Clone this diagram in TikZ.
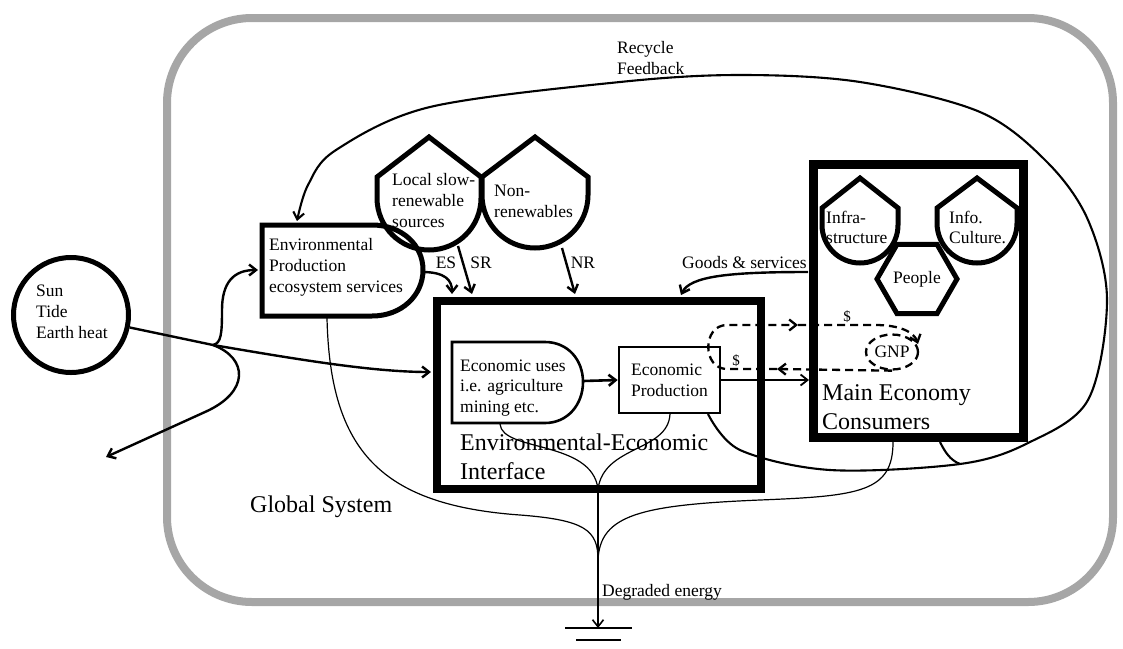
\documentclass[tikz,border=0pt]{standalone}
\usepackage{fontspec}
\setmainfont{Liberation Serif}
\usetikzlibrary{arrows.meta,shapes.geometric}
\begin{document}
\begin{tikzpicture}[x=1pt,y=-1pt,
 txt/.style={font=\fontsize{17.5}{21}\selectfont, inner sep=0pt, align=left},
 bigtxt/.style={font=\fontsize{24}{29}\selectfont, inner sep=0pt, align=left},
 tip/.style={-{Straight Barb[length=7pt,width=11pt]}},
 flow/.style={line width=2.4pt, tip},
 thinflow/.style={line width=1.2pt},
 heavy/.style={draw, line width=5pt, line join=miter},
 medium/.style={draw, line width=2.6pt},
 frame/.style={draw, line width=8.5pt},
 money/.style={line width=2.3pt, dash pattern=on 8pt off 5pt},
 border/.style={draw=gray!70, line width=8pt, rounded corners=85pt}
]
\useasboundingbox (0,0) rectangle (1123,648);
% global system boundary
\draw[border] (167,18) rectangle (1113,602);
\node[bigtxt, anchor=west] (glob) at (250,507) {Global System};

% source
\node[circle, heavy, minimum size=115pt, inner sep=0pt] (sun) at (71,315) {};
\node[txt, anchor=west] (suntxt) at (36,312) {Sun\\Tide\\Earth heat};

% environmental production
\draw[heavy] (262,225) -- (372,225) .. controls (402,225) and (423,245) .. (423,270)
  .. controls (423,295) and (402,316) .. (372,316) -- (262,316) -- cycle;
\node[txt, anchor=west] (ep) at (269,267) {Environmental\\Production\\ecosystem services};
\coordinate (epin) at (258,270);
\coordinate (eptop) at (297,221);
\coordinate (epes) at (422,272);
\coordinate (epbot) at (327,318);

% local slow-renewable sources
\draw[heavy] (377,177) -- (429,137) -- (481,177) -- (481,198)
  arc[start angle=0, end angle=180, radius=52] -- cycle;
\node[txt, anchor=west] (loc) at (392,201) {Local slow-\\renewable\\sources};
\coordinate (locout) at (458,246);
% non-renewables
\draw[heavy] (482,177) -- (535,137) -- (588,177) -- (588,195)
  arc[start angle=0, end angle=180, radius=53] -- cycle;
\node[txt, anchor=west] (non) at (494,201) {Non-\\renewables};
\coordinate (nonout) at (562,248);

% interface
\node[frame, minimum width=324pt, minimum height=188pt, inner sep=0pt] (ifc) at (599,395) {};
\node[bigtxt, anchor=west] (ifctxt) at (460,457) {Environmental-Economic\\Interface};
\coordinate (ifcin) at (431,372);
\coordinate (ifces) at (452,294);
\coordinate (ifcsr) at (472,294);
\coordinate (ifcnr) at (575,294);
\coordinate (ifcgs) at (681,295);
\coordinate (ifcbot) at (598,489);

% economic uses
\draw[medium] (452,342) -- (545,342) .. controls (568,342) and (583,360) .. (583,382)
  .. controls (583,404) and (568,423) .. (545,423) -- (452,423) -- cycle;
\node[txt, anchor=west, font=\fontsize{17.5}{20.5}\selectfont] (eu) at (460,388) {Economic uses\\i.e. agriculture\\mining etc.};
\coordinate (euout) at (583,381);
\coordinate (eubot) at (500,424);

% economic production
\node[medium, txt, minimum width=101pt, minimum height=66pt] (eprod) at (669.5,380) {Economic\\Production};
\coordinate (eprc) at (708,414);
\coordinate (epdb) at (670,414);

% main economy
\node[frame, line width=9pt, minimum width=210pt, minimum height=273pt, inner sep=0pt] (me) at (918,300.5) {};
\node[bigtxt, anchor=west] (metxt) at (822,407) {Main Economy\\Consumers};
\coordinate (mein) at (809,380);
\coordinate (megs) at (808,272);
\coordinate (mebot) at (893,442);
\coordinate (mebr) at (940,442);

% infrastructure
\draw[heavy] (822,208) -- (860,178) -- (898,208) -- (898,225)
  arc[start angle=0, end angle=180, radius=38] -- cycle;
\node[txt, anchor=west, font=\fontsize{17.5}{20}\selectfont] (infra) at (826,227) {Infra-\\structure};
% info culture
\draw[heavy] (937,208) -- (977,178) -- (1017,208) -- (1017,223)
  arc[start angle=0, end angle=180, radius=40] -- cycle;
\node[txt, anchor=west, font=\fontsize{17.5}{20}\selectfont] (info) at (949,227) {Info.\\Culture.};
% people
\node[heavy, regular polygon, regular polygon sides=6, minimum size=80pt, inner sep=0pt, txt] (people) at (917,279) {People};

% GNP and money loop
\node[ellipse, draw, money, minimum width=52pt, minimum height=35pt, inner sep=0pt, txt] (gnp) at (892,352) {GNP};
\coordinate (mbot) at (777,369);
\coordinate (mtop) at (798,325);
\draw[money, tip] (gnp.south) -- (mbot);
\draw[money, tip] (mbot) -- (727,369) .. controls (702,369) and (702,325) .. (727,325) -- (mtop);
\draw[money, tip] (mtop) -- (875,325) .. controls (900,325) and (914,332) .. (918,344);
\node[inner sep=0pt, font=\fontsize{15}{15}\selectfont] (d1) at (847,317) {\$};
\node[inner sep=0pt, font=\fontsize{15}{15}\selectfont] (d2) at (736,361) {\$};

% flows from the sources
\coordinate (split) at (213,345);
\coordinate (heat) at (106,457);
\draw[line width=2.4pt] (sun.-12) -- (split);
\draw[flow] (split) .. controls (290,358) and (370,372) .. (ifcin);
\draw[flow] (split) .. controls (221,343) and (222,335) .. (222,310)
  .. controls (222,282) and (234,270) .. (epin);
\draw[flow] (split) .. controls (248,358) and (250,392) .. (205,412) -- (heat);

\draw[flow] (epes) .. controls (445,272) and (452,280) .. (ifces);
\draw[flow] (locout) -- (ifcsr);
\draw[flow] (nonout) -- (ifcnr);
\node[txt] (es) at (446,263) {ES};
\node[txt] (sr) at (481,263) {SR};
\node[txt] (nr) at (583,263) {NR};

% economic flows
\draw[line width=2.6pt, tip] (euout) -- (eprod.west);
\draw[line width=1.8pt, tip] (eprod.east) -- (mein);
\draw[flow] (megs) .. controls (730,272) and (690,276) .. (ifcgs);
\node[txt, anchor=west] (gs) at (682,263) {Goods \& services};

% recycle feedback
\draw[flow, line width=2.1pt] plot[smooth, tension=0.55] coordinates {(eprc) (740,450) (830,470) (960,464) (1028,443) (1088,400) (1107,300) (1088,220) (1047,162) (980,112) (860,82) (740,75) (620,82) (430,107) (336,150) (308,185) (eptop)};
\draw[line width=2.1pt] (mebr) .. controls (945,452) and (950,460) .. (960,464);
\node[txt, anchor=west] (rec) at (617,58) {Recycle\\Feedback};

% degraded energy
\coordinate (ground) at (598,628);
\draw[thinflow] (epbot) .. controls (330,450) and (380,505) .. (520,515) .. controls (585,520) and (598,530) .. (598,560);
\draw[thinflow] (eubot) .. controls (502,452) and (592,440) .. (ifcbot);
\draw[thinflow] (epdb) .. controls (668,452) and (604,445) .. (ifcbot);
\draw[thinflow] (mebot) .. controls (893,492) and (860,496) .. (760,500) .. controls (640,505) and (600,515) .. (598,560);
\draw[line width=1.6pt, tip] (ifcbot) -- (ground);
\draw[line width=1.5pt] (565,628) -- (632,628);
\draw[line width=1.5pt] (576,640) -- (621,640);
\node[txt, anchor=west] (deg) at (602,592) {Degraded energy};
\end{tikzpicture}
\end{document}
